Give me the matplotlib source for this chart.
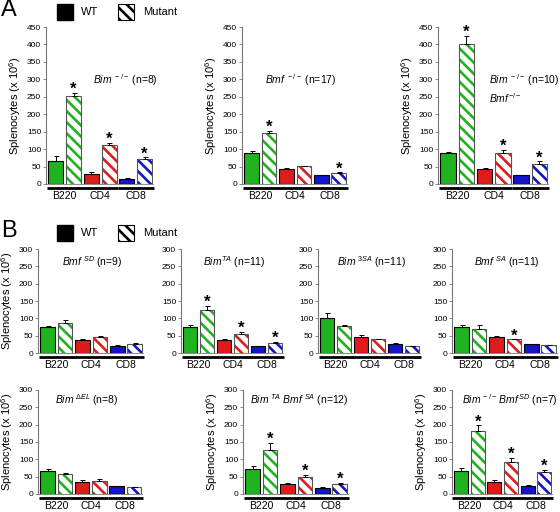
import matplotlib

matplotlib.use("Agg")
import matplotlib.pyplot as plt
from matplotlib.patches import Rectangle
from matplotlib.transforms import ScaledTranslation

plt.rcParams["font.family"] = ["Liberation Sans", "DejaVu Sans"]
plt.rcParams["mathtext.fontset"] = "custom"
plt.rcParams["mathtext.rm"] = "Liberation Sans"
plt.rcParams["mathtext.it"] = "Liberation Sans:italic"
plt.rcParams["mathtext.bf"] = "Liberation Sans:bold"
plt.rcParams["hatch.linewidth"] = 1.9

# --- data -------------------------------------------------------------------
cell_types = ["B220", "CD4", "CD8"]
colors = ["#1fb31f", "#e01b1b", "#1414c8"]

titles = [
    [r"$\mathit{Bim}^{\ -/-}$ (n=8)"],
    [r"$\mathit{Bmf}^{\ -/-}$ (n=17)"],
    [r"$\mathit{Bim}^{\ -/-}$ (n=10)", r"$\mathit{Bmf}^{-/-}$"],
    [r"$\mathit{Bmf}^{\ SD}$ (n=9)"],
    [r"$\mathit{Bim}^{TA}$ (n=11)"],
    [r"$\mathit{Bim}^{\ 3SA}$ (n=11)"],
    [r"$\mathit{Bmf}^{\ SA}$ (n=11)"],
    [r"$\mathit{Bim}^{\ \Delta EL}$ (n=8)"],
    [r"$\mathit{Bim}^{\ TA}\ \mathit{Bmf}^{\ SA}$ (n=12)"],
    [r"$\mathit{Bim}^{\,-/-}\,\mathit{Bmf}^{\,SD}$ (n=7)"],
]
wt_mean = [
    [67, 28, 14], [88, 44, 25], [88, 44, 25],
    [75, 38, 21], [75, 37, 19], [100, 45, 26], [74, 47, 25],
    [65, 36, 22], [71, 30, 18], [66, 36, 23],
]
wt_sem = [
    [12, 5, 3], [7, 2, 2], [5, 3, 1],
    [4, 3, 1], [5, 2, 2], [15, 7, 3], [6, 2, 1],
    [8, 3, 2], [9, 3, 2], [8, 3, 2],
]
mut_mean = [
    [252, 113, 71], [146, 51, 31], [402, 90, 57],
    [86, 46, 26], [125, 56, 29], [79, 39, 20], [70, 39, 22],
    [58, 38, 20], [126, 49, 30], [181, 91, 63],
]
mut_sem = [
    [10, 5, 5], [6, 2, 3], [22, 8, 8],
    [10, 2, 2], [12, 5, 3], [3, 2, 1], [10, 1, 1],
    [4, 4, 1], [22, 6, 3], [17, 13, 6],
]
signif = [
    [1, 1, 1], [1, 0, 1], [1, 1, 1],
    [0, 0, 0], [1, 1, 1], [0, 0, 0], [0, 1, 0],
    [0, 0, 0], [1, 1, 1], [1, 1, 1],
]
ymax = [450, 450, 450, 300, 300, 300, 300, 300, 300, 300]

# --- layout (pixels: left, top, right, bottom) ---------------------------------
W, H = 560, 512
boxes = [
    (46, 27, 153, 184), (242, 27, 347, 184), (438, 27, 548, 184),
    (38, 249, 143, 353), (181, 249, 283, 353), (318, 249, 420, 353), (452, 249, 557, 353),
    (38, 390, 142, 494), (243, 390, 348, 494), (452, 390, 552, 494),
]
title_pos = [
    (0.44, 0.66), (0.22, 0.66), (0.46, 0.66),
    (0.23, 0.87), (0.22, 0.87), (0.19, 0.87), (0.21, 0.87),
    (0.16, 0.90), (0.07, 0.90), (0.10, 0.90),
]
show_ylabel = [True, True, True, True, False, False, False, True, True, True]

fig = plt.figure(figsize=(W / 100, H / 100), dpi=100)

for i, (l, t, r, b) in enumerate(boxes):
    ax = fig.add_axes([l / W, 1 - b / H, (r - l) / W, (b - t) / H])
    for g in range(3):
        xw, xm = 2 * g, 2 * g + 1
        ax.bar(xw, wt_mean[i][g], width=0.84, color=colors[g], edgecolor="black",
               linewidth=0.8, zorder=2)
        ax.bar(xm, mut_mean[i][g], width=0.84, color="white", edgecolor=colors[g],
               hatch="\\\\\\", linewidth=0, zorder=2)
        ax.bar(xm, mut_mean[i][g], width=0.84, color="none", edgecolor="#555555",
               linewidth=0.8, zorder=2.5)
        ax.errorbar([xw, xm], [wt_mean[i][g], mut_mean[i][g]],
                    yerr=[[0, 0], [wt_sem[i][g], mut_sem[i][g]]], fmt="none",
                    ecolor="black", elinewidth=0.7, capsize=1.8, capthick=0.7, zorder=3)
        if signif[i][g]:
            ax.annotate("*", (xm, mut_mean[i][g] + mut_sem[i][g]), xytext=(0, -3),
                        textcoords="offset points", ha="center", va="bottom",
                        fontsize=12, fontweight="bold")

    ax.set_xlim(-0.55, 5.47)
    ax.set_ylim(0, ymax[i])
    ax.set_yticks(range(0, ymax[i] + 1, 50))
    ax.tick_params(axis="y", labelsize=6, length=2, width=0.6, color="#777777", pad=1.5)
    ax.set_xticks([0.5, 2.5, 4.5], cell_types)
    ax.tick_params(axis="x", length=0, labelsize=7.5, pad=5.2)
    for side in ("top", "right"):
        ax.spines[side].set_visible(False)
    ax.spines["left"].set_color("#777777")
    ax.spines["left"].set_linewidth(0.8)
    ax.spines["bottom"].set_color("#777777")
    ax.spines["bottom"].set_linewidth(0.6)

    # thick underline for each cell-type group
    trans = ax.get_xaxis_transform() + ScaledTranslation(0, -4 / 100, fig.dpi_scale_trans)
    for g in range(3):
        ax.plot([2 * g - 0.52, 2 * g + 1.52], [0, 0], color="black", linewidth=2,
                transform=trans, clip_on=False, solid_capstyle="butt")

    tx, ty = title_pos[i]
    ax.text(tx, ty, titles[i][0], transform=ax.transAxes, fontsize=7.5, va="center")
    if len(titles[i]) > 1:
        ax.text(tx, ty - 0.11, titles[i][1], transform=ax.transAxes, fontsize=7.5, va="center")

    if show_ylabel[i]:
        ax.set_ylabel(r"Splenocytes (x 10$^6$)", fontsize=8, labelpad=3)

# panel letters and legends
for letter, ytop in (("A", 1), ("B", 222)):
    fig.text(1 / W, 1 - (ytop + 9) / H, letter, fontsize=17, va="center", ha="left")
    fig.patches.append(Rectangle((57 / W, 1 - (ytop + 19) / H), 16 / W, 16 / H,
                                 facecolor="black", edgecolor="black",
                                 transform=fig.transFigure, figure=fig))
    fig.patches.append(Rectangle((118 / W, 1 - (ytop + 19) / H), 16 / W, 16 / H,
                                 facecolor="white", edgecolor="black", hatch="\\\\\\",
                                 linewidth=0.8, transform=fig.transFigure, figure=fig))
    fig.text(81 / W, 1 - (ytop + 11) / H, "WT", fontsize=8, va="center")
    fig.text(143 / W, 1 - (ytop + 11) / H, "Mutant", fontsize=8, va="center")

fig.savefig("out.png", dpi=100)
